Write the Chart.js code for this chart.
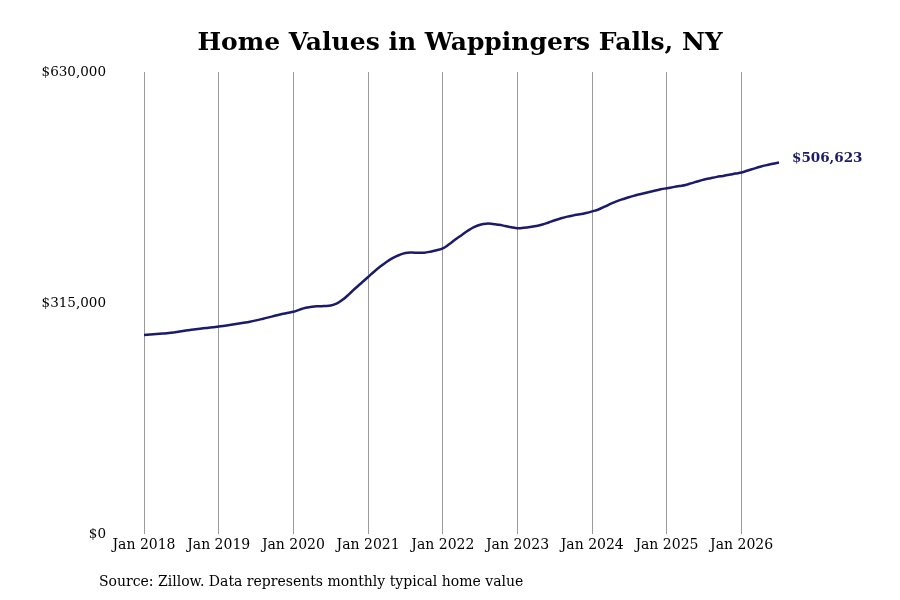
<!DOCTYPE html>
<html>
<head>
<meta charset="utf-8">
<script src="https://cdn.jsdelivr.net/npm/chart.js@4"></script>
<style>
html,body{margin:0;padding:0;background:#fff;}
#wrap{width:900px;height:600px;position:relative;}
</style>
</head>
<body>
<div id="wrap"><canvas id="c" width="900" height="600"></canvas></div>
<script>
const titleText = "Home Values in Wappingers Falls, NY";
const sourceText = "Source: Zillow. Data represents monthly typical home value";
const monthNames = ["Jan","Feb","Mar","Apr","May","Jun","Jul","Aug","Sep","Oct","Nov","Dec"];
const years = [2018,2019,2020,2021,2022,2023,2024,2025,2026];
const yTicks = [0, 315000, 630000];
const lastLabel = "$506,623";

const values2018 = [271400,272000,272700,273300,274000,275200,276500,277800,279000,280000,281000,282000];
const values2019 = [282800,284000,285300,286600,288000,289500,291300,293300,295400,297500,299600,301500];
const values2020 = [303000,306000,308500,310000,310500,310800,311500,314500,320000,327500,335500,343000];
const values2021 = [350500,358000,365000,371300,376500,380500,383300,383800,383500,383600,385000,387000];
const values2022 = [389500,395000,401500,407500,413500,418500,421800,423200,422800,421600,420000,418300];
const values2023 = [417000,417500,418500,420000,422000,424800,427800,430500,432800,434500,436000,437800];
const values2024 = [440000,442500,446300,450500,454000,456800,459500,462000,464000,466000,468000,470000];
const values2025 = [471500,473000,474500,476000,478500,481000,483300,485200,487000,488300,489800,491500];
const values2026 = [493000,495700,498300,500800,503000,505000,506623];

const values = [].concat(values2018,values2019,values2020,values2021,values2022,values2023,values2024,values2025,values2026);
const labels = [];
years.forEach(y => monthNames.forEach(m => labels.push(m + " " + y)));
labels.length = values.length;

const lineColor = "#1b1a6b";
const serif = "'DejaVu Serif', serif";

const textPlugin = {
  id: 'texts',
  afterDraw(chart) {
    const ctx = chart.ctx;
    ctx.save();
    ctx.fillStyle = "#000";
    ctx.font = "bold 25px " + serif;
    ctx.textAlign = "center";
    ctx.textBaseline = "middle";
    ctx.fillText(titleText, 460, 43);
    ctx.font = "14px " + serif;
    ctx.textAlign = "left";
    ctx.fillText(sourceText, 99, 582);
    const meta = chart.getDatasetMeta(0);
    const pt = meta.data[meta.data.length - 1];
    ctx.font = "bold 13.5px " + serif;
    ctx.fillStyle = lineColor;
    ctx.fillText(lastLabel, pt.x + 13, pt.y - 4);
    ctx.restore();
  }
};

new Chart(document.getElementById('c'), {
  type: 'line',
  data: {
    labels: labels,
    datasets: [{
      data: values,
      borderColor: lineColor,
      borderWidth: 2.5,
      pointRadius: 0,
      tension: 0.4,
      fill: false
    }]
  },
  options: {
    responsive: false,
    animation: false,
    devicePixelRatio: 1,
    layout: { padding: { top: 72, right: 121, left: 0, bottom: 0 } },
    plugins: { legend: { display: false }, title: { display: false }, tooltip: { enabled: false } },
    scales: {
      x: {
        type: 'category',
        offset: false,
        border: { display: false },
        grid: {
          drawTicks: false,
          lineWidth: 1,
          color: (c) => (c.index !== undefined && c.index % 12 === 0) ? '#9a9a9a' : 'rgba(0,0,0,0)'
        },
        ticks: {
          autoSkip: false,
          maxRotation: 0,
          padding: 3,
          color: '#000',
          font: { family: serif, size: 14 },
          callback: function(v, i) { return i % 12 === 0 ? labels[i] : ''; }
        },
        afterFit(scale) { scale.height = 66; }
      },
      y: {
        min: 0,
        max: 630000,
        border: { display: false },
        grid: { display: false },
        afterBuildTicks(scale) { scale.ticks = yTicks.map(v => ({ value: v })); },
        ticks: {
          padding: 30,
          color: '#000',
          font: { family: serif, size: 13.5 },
          callback: (v) => '$' + Number(v).toLocaleString('en-US')
        },
        afterFit(scale) { scale.width = 144; }
      }
    }
  },
  plugins: [textPlugin]
});
</script>
</body>
</html>
